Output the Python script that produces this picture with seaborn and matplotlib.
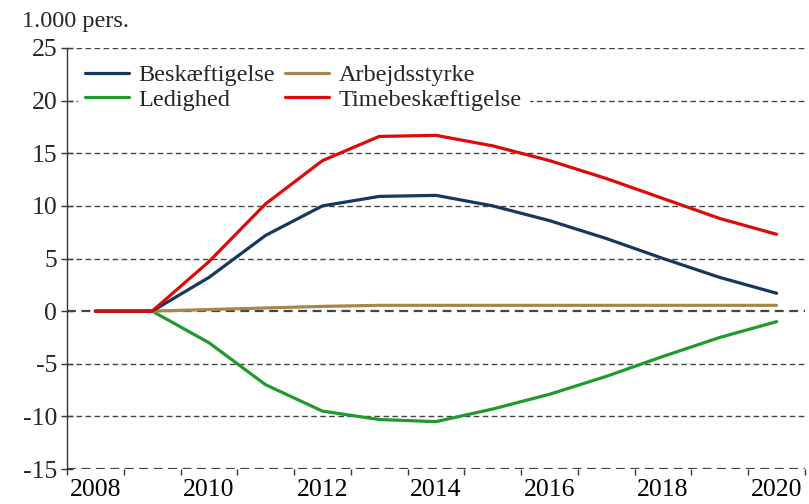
import matplotlib
matplotlib.use("Agg")
import matplotlib.pyplot as plt
import seaborn as sns
import pandas as pd
import numpy as np

years = list(range(2008, 2021))
beskaeftigelse = [0, 0, 3.2, 7.2, 10.0, 10.9, 11.0, 10.0, 8.6, 6.9, 5.0, 3.2, 1.7]
arbejdsstyrke = [0, 0, 0.15, 0.3, 0.45, 0.55, 0.55, 0.55, 0.55, 0.55, 0.55, 0.55, 0.55]
ledighed = [0, 0, -3.0, -7.0, -9.5, -10.3, -10.5, -9.3, -7.9, -6.2, -4.3, -2.5, -1.0]
timebeskaeftigelse = [0, 0, 4.7, 10.2, 14.3, 16.6, 16.7, 15.7, 14.3, 12.6, 10.7, 8.8, 7.3]

series = {
    "Beskæftigelse": beskaeftigelse,
    "Arbejdsstyrke": arbejdsstyrke,
    "Ledighed": ledighed,
    "Timebeskæftigelse": timebeskaeftigelse,
}
colors = {
    "Beskæftigelse": "#17375E",
    "Arbejdsstyrke": "#A8884A",
    "Ledighed": "#1F9A2E",
    "Timebeskæftigelse": "#DD0A0A",
}
ylabel_text = "1.000 pers."

df = pd.DataFrame([
    {"year": y, "serie": name, "value": v}
    for name, vals in series.items() for y, v in zip(years, vals)
])

sns.set_theme(style="white")
plt.rcParams["font.family"] = ["Liberation Serif", "DejaVu Serif"]
plt.rcParams["axes.unicode_minus"] = False

fig = plt.figure(figsize=(8.09, 5.04), dpi=100)
ax = fig.add_axes([67/809, 1-469/504, (805-67)/809, (469-48)/504])

sns.lineplot(data=df, x="year", y="value", hue="serie", palette=colors,
             hue_order=["Ledighed", "Arbejdsstyrke", "Beskæftigelse", "Timebeskæftigelse"],
             linewidth=2.3, ax=ax, legend=False, zorder=3)

ax.set_xlim(years[0]-0.5, years[-1]+0.5)
ax.set_ylim(-15, 25)
ax.set_yticks(np.arange(-15, 26, 5))
ax.set_xticks(np.arange(years[0]-0.5, years[-1]+0.6, 1.0))
ax.set_xticklabels([])
ax.set_xticks(years[::2], minor=True)
ax.set_xticklabels([str(y) for y in years[::2]], minor=True)
ax.tick_params(axis="x", which="major", direction="out", length=4, width=1, color="#333333", bottom=True)
ax.tick_params(axis="x", which="minor", length=0, labelsize=18.5, pad=7, colors="black", bottom=True)
ax.tick_params(axis="y", direction="inout", length=8, width=1, color="#333333", labelsize=18.5, left=True, pad=3)

for yv in np.arange(-15, 26, 5):
    lw = 1.6 if yv in (0, -15) else 1.0
    ax.axhline(yv, color="#444444", linestyle=(0, (4, 2.5)), linewidth=lw, zorder=1)

for s in ["top", "right", "bottom"]:
    ax.spines[s].set_visible(False)
ax.spines["left"].set_color("#333333")
ax.spines["left"].set_linewidth(1)
ax.set_xlabel("")
ax.set_ylabel("")

fig.text(22/809, 1-21/504, ylabel_text, fontsize=17.5, ha="left", va="center")

order = ["Beskæftigelse", "Ledighed", "Arbejdsstyrke", "Timebeskæftigelse"]
handles = [plt.Line2D([], [], color=colors[n], linewidth=2.3) for n in order]
leg = ax.legend(handles, order, ncol=2, loc="upper left", bbox_to_anchor=(0.008, 0.99),
                frameon=True, fontsize=17.5, handlelength=1.8, handletextpad=0.4,
                columnspacing=0.4, labelspacing=0.1, borderpad=0.3, borderaxespad=0.2)
leg.get_frame().set_facecolor("white")
leg.get_frame().set_edgecolor("white")
leg.get_frame().set_alpha(1)
leg.get_frame().set_boxstyle("square", pad=0)
leg.set_zorder(5)

fig.savefig("out.png", dpi=100)
